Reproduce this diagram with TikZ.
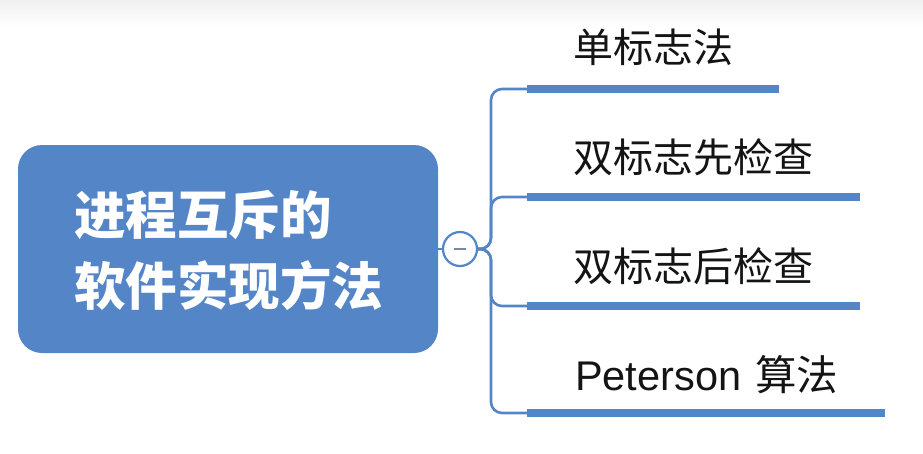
\documentclass[tikz,border=0pt]{standalone}
\usepackage{fontspec}
\newfontfamily\cjk{Noto Sans CJK SC}
\newfontfamily\latin{Liberation Sans}
\definecolor{mapblue}{RGB}{84,133,199}
\definecolor{minusgray}{RGB}{125,135,165}
\begin{document}
\begin{tikzpicture}[x=1pt,y=-1pt,
  rootbox/.style={fill=mapblue, draw=none, rounded corners=24pt,
    minimum width=420pt, minimum height=208pt, inner sep=0pt},
  roottext/.style={text=white, font=\cjk\bfseries\fontsize{51.5}{71}\selectfont,
    align=left, anchor=west, inner sep=0pt},
  leaf/.style={font=\cjk\fontsize{40}{46}\selectfont, anchor=west, inner sep=0pt, text=black!92},
  branch/.style={draw=mapblue, line width=2.6pt, rounded corners=11pt},
  bar/.style={draw=mapblue, line width=8pt},
  toggle/.style={circle, draw=mapblue, line width=2.2pt, fill=white, minimum size=34pt, inner sep=0pt}]
  \useasboundingbox (0,0) rectangle (923,453);
  % soft band along the top edge
  \shade[top color=black!6, bottom color=white] (0,0) rectangle (923,26);

  % central topic
  \node[rootbox] (root) at (228,249) {};
  \node[roottext] (rootlabel) at (74,250) {进程互斥的\\软件实现方法};

  % collapse toggle
  \node[toggle] (tog) at (460,249) {};
  \draw[minusgray, line width=2pt] ([xshift=-6pt]tog.center) -- ([xshift=6pt]tog.center);
  \draw[mapblue, line width=2.6pt] (root.east) -- (tog.west);

  % bar start and end points
  \coordinate (s1) at (527,89);  \coordinate (e1) at (779,89);
  \coordinate (s2) at (527,197); \coordinate (e2) at (860,197);
  \coordinate (s3) at (527,306); \coordinate (e3) at (860,306);
  \coordinate (s4) at (527,413); \coordinate (e4) at (885,413);

  % branch connectors
  \foreach \i in {1,...,4}{
    \draw[branch] (tog.east) -- (491,249) |- (s\i);
    \draw[bar] (s\i) -- (e\i);
  }

  % subtopics
  \node[leaf] (t1) at (573,47)  {单标志法};
  \node[leaf] (t2) at (573,157) {双标志先检查};
  \node[leaf] (t3) at (573,266) {双标志后检查};
  \node[leaf] (t4) at (575,375) {{\latin\fontsize{41.5}{46}\selectfont Peterson}\hspace{14pt}{\fontsize{41.5}{46}\selectfont 算法}};
\end{tikzpicture}
\end{document}
